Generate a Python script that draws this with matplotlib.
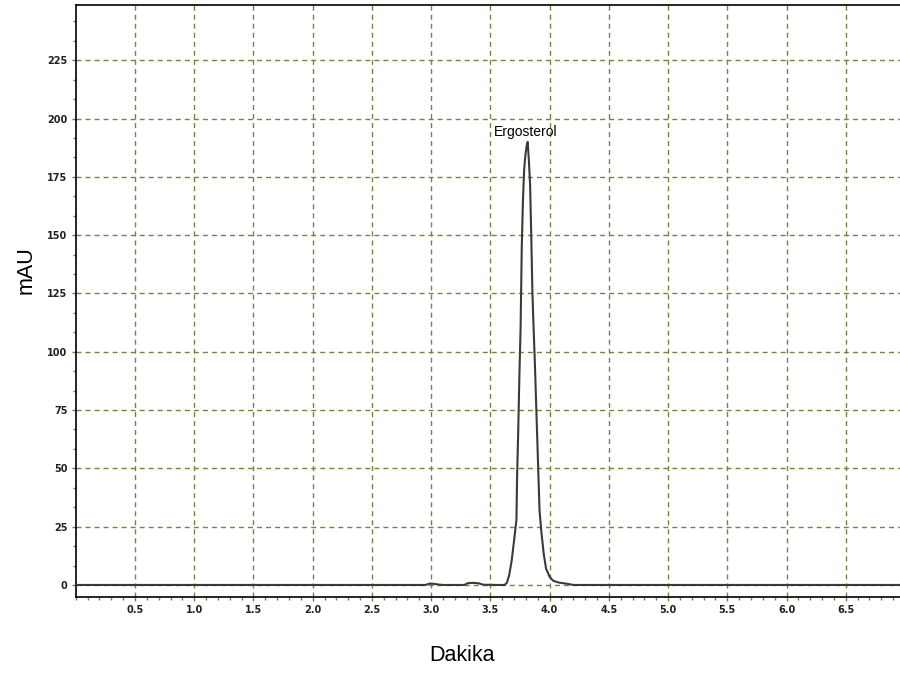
import matplotlib.pyplot as plt
from matplotlib.ticker import MultipleLocator, FormatStrFormatter

# retention time (min) and detector signal (mAU) along the trace
time = [0.00, 2.95, 2.99, 3.02, 3.06, 3.10, 3.28, 3.31, 3.36, 3.40, 3.44,
        3.55, 3.62, 3.64, 3.66, 3.68, 3.70, 3.72, 3.725, 3.735, 3.745,
        3.755, 3.765, 3.775, 3.785, 3.795, 3.805, 3.815, 3.825, 3.835,
        3.845, 3.855, 3.865, 3.875, 3.885, 3.895, 3.905, 3.915, 3.93,
        3.95, 3.97, 4.00, 4.03, 4.08, 4.15, 4.20, 6.96]
mau = [0.0, 0.0, 0.6, 0.5, 0.2, 0.0, 0.0, 0.8, 0.9, 0.7, 0.1,
       0.0, 0.0, 1.0, 4.5, 10.5, 19.0, 28.0, 45.0, 66.0, 90.0,
       110.0, 145.0, 165.0, 178.0, 184.0, 188.0, 190.0, 182.0, 172.0,
       150.0, 125.0, 110.0, 96.0, 80.0, 64.0, 48.0, 32.0, 23.0,
       13.5, 7.0, 3.5, 1.8, 1.0, 0.5, 0.0, 0.0]

peak_name = "Ergosterol"
peak_time = 3.815
peak_height = 190.0

x_major = [0.5, 1.0, 1.5, 2.0, 2.5, 3.0, 3.5, 4.0, 4.5, 5.0, 5.5, 6.0, 6.5]
y_major = [0, 25, 50, 75, 100, 125, 150, 175, 200, 225]

grid_col = "#7f7f45"

fig = plt.figure(figsize=(9, 6.75), dpi=100)
ax = fig.add_axes([0.0842, 0.1156, 0.9158, 0.877])

ax.plot(time, mau, color="#3a3a3a", lw=1.5, zorder=3)

ax.annotate(peak_name, (peak_time, peak_height), xytext=(-1.5, 2),
            textcoords="offset points", ha="center", va="bottom",
            fontsize=10, family="Liberation Sans")

ax.set_xlim(0, 6.958)
ax.set_ylim(-5.15, 248.7)

ax.set_xticks(x_major)
ax.set_yticks(y_major)
ax.xaxis.set_major_formatter(FormatStrFormatter("%.1f"))
ax.xaxis.set_minor_locator(MultipleLocator(0.1))
ax.yaxis.set_minor_locator(MultipleLocator(25 / 3))

ax.tick_params(which="both", direction="out", color=grid_col, width=1)
ax.tick_params(which="major", length=3, labelsize=7, labelcolor="#222222", pad=3)
ax.tick_params(which="minor", length=2.5)
for lbl in ax.get_xticklabels() + ax.get_yticklabels():
    lbl.set_fontweight("semibold")

ax.grid(True, which="major", color=grid_col, lw=1.0, ls=(0, (3.6, 2.9)))
ax.set_axisbelow(True)

for side in ["left", "bottom", "top"]:
    ax.spines[side].set_color("black")
    ax.spines[side].set_linewidth(1.2)
ax.spines["right"].set_visible(False)

ax.set_xlabel("Dakika", fontsize=15.5, family="Liberation Sans")
ax.set_ylabel("mAU", fontsize=15.5, family="Liberation Sans")
ax.xaxis.set_label_coords(0.4686, -0.081)
ax.yaxis.set_label_coords(-0.047, 0.552)

fig.savefig("out.png", dpi=100)
